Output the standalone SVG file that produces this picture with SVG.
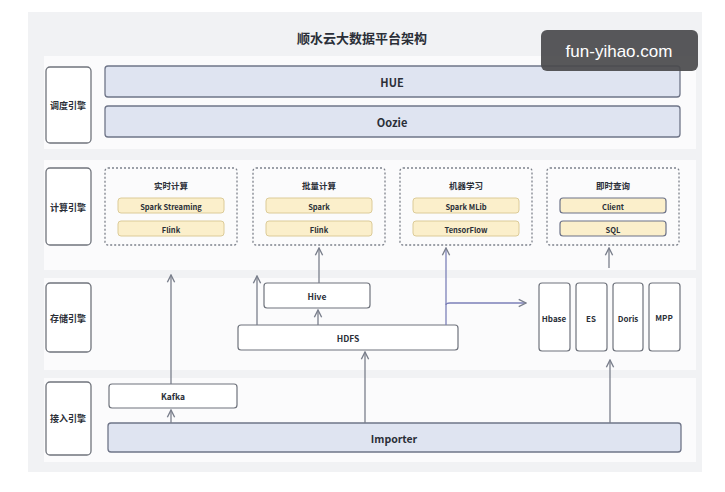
<svg xmlns="http://www.w3.org/2000/svg" width="725" height="492" viewBox="0 0 725 492">
<style>
text{font-family:"Noto Sans CJK SC","Noto Sans",sans-serif;font-weight:bold;fill:#2b2f38;text-anchor:middle;dominant-baseline:central}
.row{fill:#fbfbfc}
.lab{fill:#fff;stroke:#70747c;stroke-width:1.3}
.blue{fill:#dfe4f1;stroke:#6f7588;stroke-width:1.3}
.grp{fill:none;stroke:#7d828c;stroke-width:1.3;stroke-dasharray:2 2}
.it{fill:#fbefcb;stroke:#dccb98;stroke-width:1}
.it2{fill:#fbefcb;stroke:#6c7288;stroke-width:1.2}
.box{fill:#fff;stroke:#6f737c;stroke-width:1.2}
.c line,.c path{stroke:#7a7f8c;stroke-width:1.3;fill:none;marker-end:url(#a)}
.c .p{stroke:#7c80b8}
</style>
<defs><marker id="a" viewBox="0 0 10 10" refX="9" refY="5" markerWidth="7" markerHeight="7" orient="auto"><path d="M1,1L9,5L1,9" fill="none" stroke="#7a7f8c" stroke-width="1.5"/></marker></defs>
<rect width="725" height="492" fill="#fff"/>
<rect x="28" y="12" width="674" height="460" fill="#f1f2f4"/>
<text x="362" y="37" font-size="13">顺水云大数据平台架构</text>
<rect class="row" x="44" y="56" width="652" height="93"/>
<rect class="row" x="44" y="160" width="652" height="110"/>
<rect class="row" x="44" y="278" width="652" height="92"/>
<rect class="row" x="44" y="378" width="652" height="84"/>
<g id="l1"><rect class="lab" x="46" y="67" width="45" height="76" rx="4"/><text x="68" y="105" font-size="9">调度引擎</text></g>
<g id="l2"><rect class="lab" x="46" y="168" width="45" height="77" rx="4"/><text x="68" y="207" font-size="9">计算引擎</text></g>
<g id="l3"><rect class="lab" x="46" y="283" width="45" height="69" rx="4"/><text x="68" y="318" font-size="9">存储引擎</text></g>
<g id="l4"><rect class="lab" x="46" y="382" width="45" height="73" rx="4"/><text x="68" y="418" font-size="9">接入引擎</text></g>
<g id="hue"><rect class="blue" x="105" y="66" width="575" height="31" rx="3"/><text x="392" y="82" font-size="11">HUE</text></g>
<g id="oozie"><rect class="blue" x="105" y="106" width="575" height="31" rx="3"/><text x="392" y="122" font-size="11">Oozie</text></g>
<g id="g1"><rect class="grp" x="105" y="168" width="132" height="77" rx="3"/><text x="171" y="185" font-size="8.5">实时计算</text>
<rect class="it" x="118" y="198" width="106" height="15" rx="3"/><text x="171" y="206" font-size="7.5">Spark Streaming</text>
<rect class="it" x="118" y="221" width="106" height="15" rx="3"/><text x="171" y="229" font-size="7.5">Flink</text></g>
<g id="g2"><rect class="grp" x="253" y="168" width="132" height="77" rx="3"/><text x="319" y="185" font-size="8.5">批量计算</text>
<rect class="it" x="266" y="198" width="106" height="15" rx="3"/><text x="319" y="206" font-size="7.5">Spark</text>
<rect class="it" x="266" y="221" width="106" height="15" rx="3"/><text x="319" y="229" font-size="7.5">Flink</text></g>
<g id="g3"><rect class="grp" x="400" y="168" width="132" height="77" rx="3"/><text x="466" y="185" font-size="8.5">机器学习</text>
<rect class="it" x="413" y="198" width="106" height="15" rx="3"/><text x="466" y="206" font-size="7.5">Spark MLib</text>
<rect class="it" x="413" y="221" width="106" height="15" rx="3"/><text x="466" y="229" font-size="7.5">TensorFlow</text></g>
<g id="g4"><rect class="grp" x="547" y="168" width="132" height="77" rx="3"/><text x="613" y="185" font-size="8.5">即时查询</text>
<rect class="it2" x="560" y="198" width="106" height="15" rx="3"/><text x="613" y="206" font-size="7.5">Client</text>
<rect class="it2" x="560" y="221" width="106" height="15" rx="3"/><text x="613" y="229" font-size="7.5">SQL</text></g>
<g id="hive"><rect class="box" x="264" y="283" width="106" height="25" rx="3"/><text x="317" y="296" font-size="8.5">Hive</text></g>
<g id="hdfs"><rect class="box" x="238" y="325" width="220" height="25" rx="3"/><text x="348" y="338" font-size="8.5">HDFS</text></g>
<g id="hbase"><rect class="box" x="539" y="283" width="31" height="68" rx="3"/><text x="554" y="318" font-size="8">Hbase</text></g>
<g id="es"><rect class="box" x="576" y="283" width="31" height="68" rx="3"/><text x="591" y="318" font-size="8">ES</text></g>
<g id="doris"><rect class="box" x="613" y="283" width="30" height="68" rx="3"/><text x="628" y="318" font-size="8">Doris</text></g>
<g id="mpp"><rect class="box" x="649" y="283" width="31" height="68" rx="3"/><text x="664" y="317" font-size="8">MPP</text></g>
<g id="kafka"><rect class="box" x="109" y="384" width="128" height="24" rx="3"/><text x="173" y="396" font-size="8.5">Kafka</text></g>
<g id="importer"><rect class="blue" x="108" y="423" width="573" height="29" rx="3"/><text x="394" y="438" font-size="10.5">Importer</text></g>
<g id="connectors" class="c">
<line x1="171" y1="384" x2="171" y2="275"/>
<line x1="171" y1="423" x2="171" y2="410"/>
<line x1="257" y1="325" x2="257" y2="276"/>
<line x1="319" y1="283" x2="319" y2="248"/>
<line x1="318" y1="325" x2="318" y2="310"/>
<line class="p" x1="446" y1="325" x2="446" y2="248"/>
<path class="p" d="M446,305Q446,303 450,303L526,303"/>
<line x1="365" y1="423" x2="365" y2="352"/>
<line x1="610" y1="423" x2="610" y2="360"/>
<line x1="609" y1="268" x2="609" y2="248"/>
</g>
<g id="wm"><rect x="541" y="30" width="157" height="41" rx="6" fill="#4a4a4c" opacity="0.92"/><text x="619" y="51" font-size="17" style="fill:#fff;font-weight:normal;font-family:'Liberation Sans',sans-serif">fun-yihao.com</text></g>
</svg>
